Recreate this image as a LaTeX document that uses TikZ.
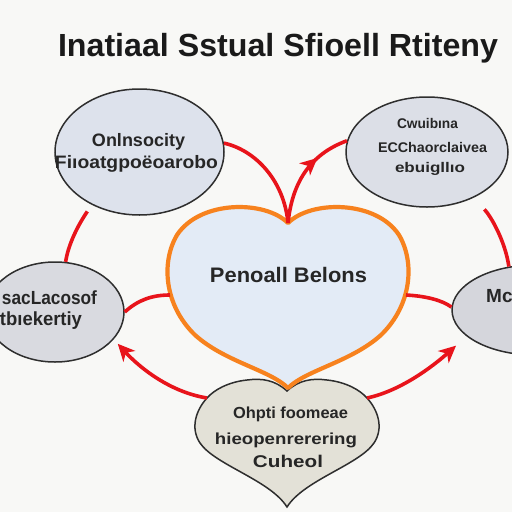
\documentclass[tikz,border=0pt]{standalone}
\usepackage{fontspec}
\setmainfont{Liberation Sans}
\newfontfamily\titlefont{Liberation Sans}
\newfontfamily\bodyfont{Liberation Sans}
\usetikzlibrary{arrows.meta,decorations.markings,shapes.geometric}
\definecolor{bgc}{HTML}{F8F8F6}
\definecolor{outl}{HTML}{2E2E2E}
\definecolor{txt}{HTML}{262626}
\definecolor{titc}{HTML}{1A1A1A}
\definecolor{tlc}{HTML}{DDE2EC}
\definecolor{trc}{HTML}{DCDFE7}
\definecolor{lec}{HTML}{D9DAE0}
\definecolor{rec}{HTML}{D5D6DC}
\definecolor{hfill}{HTML}{E3EBF6}
\definecolor{bfill}{HTML}{E3E1D7}
\definecolor{orng}{HTML}{F7821E}
\definecolor{redc}{HTML}{E8141B}
\newcommand{\fitw}[2]{\resizebox{#1}{\height}{#2}}
\begin{document}
\begin{tikzpicture}[x=1pt,y=-1pt,
  bubble/.style={ellipse, draw=outl, line width=1.5pt, inner sep=0pt},
  lbl/.style={anchor=base, inner sep=0pt, text=txt},
  conn/.style={draw=redc, line width=3.6pt},
  tipped/.style={-{Stealth[length=17pt,width=16pt,inset=5pt]}},
  midarrow/.style={postaction={decorate}, decoration={markings,
      mark=at position #1 with {\arrow{Stealth[length=17pt,width=16pt,inset=5pt]}}}}]
\clip (0,0) rectangle (512,512);
\fill[bgc] (0,0) rectangle (512,512);

% title
\node[lbl, text=titc, font=\titlefont\bfseries\fontsize{32}{32}\selectfont] (title) at (278,56)
  {\fitw{440pt}{Inatiaal Sstual Sfioell Rtiteny}};

% ellipses
\node[bubble, fill=tlc, minimum width=169pt, minimum height=126pt] (tl) at (139.5,152) {};
\node[bubble, fill=trc, minimum width=162pt, minimum height=110pt] (tr) at (427,152) {};
\node[bubble, fill=lec, minimum width=138pt, minimum height=100pt] (le) at (55,312) {};
\node[bubble, fill=rec, minimum width=166pt, minimum height=90pt] (re) at (535,310) {};

% bottom heart
\path[draw=outl, line width=1.5pt, fill=bfill]
  (287,391) .. controls (275,380) and (262,378) .. (247,380)
  .. controls (228,382) and (214,390) .. (207,398)
  .. controls (196,410) and (190,428) .. (200,443)
  .. controls (215,465) and (270,480) .. (287,507)
  .. controls (304,480) and (359,465) .. (374,443)
  .. controls (384,428) and (378,410) .. (367,398)
  .. controls (360,390) and (346,382) .. (327,380)
  .. controls (312,378) and (299,380) .. (287,391) -- cycle;
\coordinate (bl) at (207,398);
\coordinate (br) at (367,398);

% main heart
\path[draw=orng, line width=4.2pt, fill=hfill, line join=round]
  (288,223) .. controls (265,200) and (200,200) .. (177,235)
  .. controls (161,262) and (164,305) .. (195,335)
  .. controls (225,362) and (270,370) .. (288,388)
  .. controls (306,370) and (351,362) .. (381,335)
  .. controls (412,305) and (415,262) .. (399,235)
  .. controls (376,200) and (311,200) .. (288,223) -- cycle;
\coordinate (hn) at (288,223);
\coordinate (hl) at (170,295);
\coordinate (hr) at (406,295);

% texts
\tikzset{bf/.style={font=\bodyfont\bfseries\fontsize{#1}{#1}\selectfont}}
\node[lbl, bf=18] (t1a) at (138.5,146) {\fitw{93pt}{Onlnsocity}};
\node[lbl, bf=18] (t1b) at (136.5,168) {\fitw{163pt}{Fiıoatgpoëoarobo}};
\node[lbl, bf=14] (t2a) at (427.5,128) {\fitw{61pt}{Cwuibına}};
\node[lbl, bf=14] (t2b) at (432.5,152) {\fitw{109pt}{ECChaorclaivea}};
\node[lbl, bf=14] (t2c) at (430,172) {\fitw{70pt}{ebuigllıo}};
\node[lbl, bf=19] (t3a) at (49.5,304) {\fitw{95pt}{sacLacosof}};
\node[lbl, bf=19] (t3b) at (41,325) {\fitw{82pt}{tbıekertiy}};
\node[lbl, anchor=base west, bf=19] (t4) at (486,302) {Mcı};
\node[lbl, bf=21] (t5) at (288.5,282) {\fitw{157pt}{Penoall Belons}};
\node[lbl, bf=16] (t6a) at (290.5,418) {\fitw{115pt}{Ohpti foomeae}};
\node[lbl, bf=16] (t6b) at (286,444) {\fitw{142pt}{hieopenrerering}};
\node[lbl, bf=17] (t6c) at (288,467) {\fitw{70pt}{Cuheol}};

% connectors
\draw[conn] (tl.6) .. controls (255,150) and (284,180) .. (hn);
\draw[conn, midarrow=0.68] (hn) .. controls (292,185) and (308,155) .. (tr.172);
\draw[conn, shorten <=8pt] (tl.-132) .. controls (78,225) and (68,245) .. (le.78);
\draw[conn, shorten <=16pt] (tr.-45) .. controls (490,215) and (505,240) .. (re.121);
\draw[conn] (le.0) .. controls (138,300) and (152,295) .. (hl);
\draw[conn] (hr) .. controls (425,296) and (442,300) .. (re.178);
\draw[conn, tipped, shorten >=6pt] (bl) .. controls (170,392) and (140,368) .. (le.-25);
\draw[conn, tipped, shorten >=14pt] (br) .. controls (405,390) and (440,360) .. (re.-159);
\end{tikzpicture}
\end{document}
